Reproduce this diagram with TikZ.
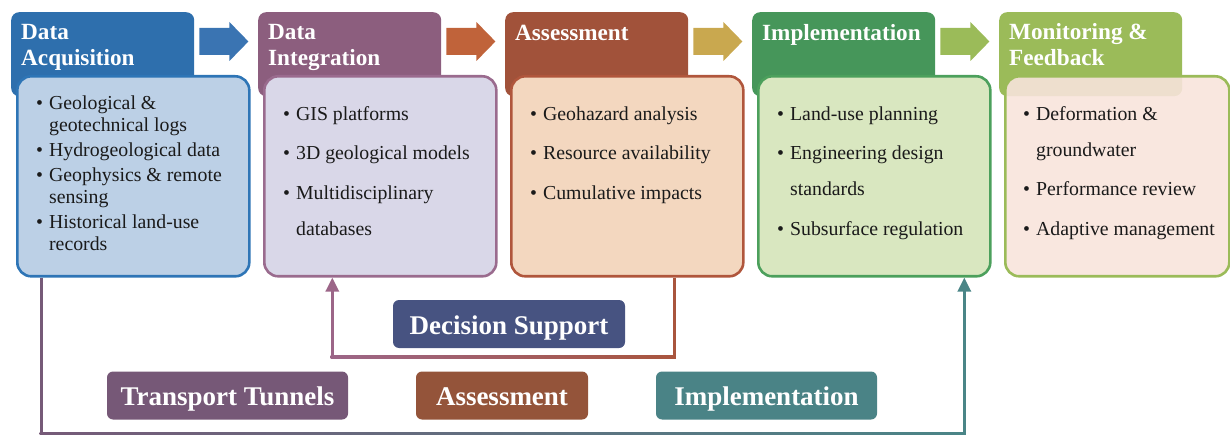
\documentclass[tikz,border=0pt]{standalone}
\usepackage{fontspec}
\setmainfont{Liberation Serif}
\usetikzlibrary{arrows.meta,calc}

% stage colours
\definecolor{tabA}{HTML}{2E6FAD}
\definecolor{tabB}{HTML}{8C5E7E}
\definecolor{tabC}{HTML}{A1523A}
\definecolor{tabD}{HTML}{46965A}
\definecolor{tabE}{HTML}{9BBB59}
\definecolor{arrA}{HTML}{3A74B2}
\definecolor{arrB}{HTML}{C0633A}
\definecolor{arrC}{HTML}{C9A84F}
\definecolor{arrD}{HTML}{9BBB59}
\definecolor{panA}{HTML}{BCD0E6}
\definecolor{lnA}{HTML}{2E75B6}
\definecolor{panB}{HTML}{D9D7E8}
\definecolor{lnB}{HTML}{9A6B8E}
\definecolor{panC}{HTML}{F3D7BF}
\definecolor{lnC}{HTML}{B0563C}
\definecolor{panD}{HTML}{D9E7C0}
\definecolor{lnD}{HTML}{4CA05C}
\definecolor{panE}{HTML}{F8E4DB}
\definecolor{lnE}{HTML}{9BBB59}
% bottom labels and loops
\definecolor{dsCol}{HTML}{475381}
\definecolor{ttCol}{HTML}{765877}
\definecolor{asCol}{HTML}{94543A}
\definecolor{imCol}{HTML}{4A8386}
\definecolor{lnDR}{HTML}{A9553D}
\definecolor{lnDL}{HTML}{9C6688}
\definecolor{lnGL}{HTML}{765A78}
\definecolor{lnGM}{HTML}{9A5A40}
\definecolor{lnGR}{HTML}{4A8587}
\definecolor{bodyInk}{HTML}{1A1A1A}

\begin{document}
\begin{tikzpicture}[x=1pt,y=-1pt,
  tabbox/.style={fill=#1, rounded corners=8pt, minimum width=183pt,
    minimum height=84pt, inner sep=0pt, anchor=north west},
  panel/.style 2 args={fill=#1, draw=#2, line width=2.6pt, rounded corners=14pt,
    minimum width=232pt, minimum height=200pt, inner sep=0pt, anchor=north west},
  headtxt/.style={text=white, font=\bfseries\fontsize{23.2}{26}\selectfont,
    inner sep=0pt, anchor=base west},
  bodytxt/.style={text=bodyInk, inner sep=0pt, anchor=base west},
  widebody/.style={bodytxt, font=\fontsize{19.8}{36}\selectfont},
  tagbox/.style={fill=#1, rounded corners=6pt, text=white,
    font=\bfseries\fontsize{27}{30}\selectfont, inner sep=0pt,
    text height=22pt, text depth=2pt, minimum height=48pt},
  link/.style={line width=3.2pt},
  linktip/.style={-{Triangle[length=14pt,width=13pt]}},
]
\useasboundingbox (0,0) rectangle (1230,435);

% header tabs
\node[tabbox=tabA] (t1) at (11,12) {};
\node[tabbox=tabB] (t2) at (258,12) {};
\node[tabbox=tabC] (t3) at (505,12) {};
\node[tabbox=tabD] (t4) at (752,12) {};
\node[tabbox=tabE] (t5) at (999,12) {};

% content panels
\node[panel={panA}{lnA}] (p1) at (16,75) {};
\node[panel={panB}{lnB}] (p2) at (263,75) {};
\node[panel={panC}{lnC}] (p3) at (510,75) {};
\node[panel={panD}{lnD}] (p4) at (757,75) {};
\node[panel={panE}{lnE}, minimum width=224pt, fill opacity=0.9] (p5) at (1004,75) {};

% block arrows between stages
\foreach \s/\c in {t1/arrA, t2/arrB, t3/arrC, t4/arrD}
  \fill[\c] ($(\s.north east)+(5,16)$) -- ++(30,0) -- ++(0,-6) -- ++(19,19.5)
     -- ++(-19,19.5) -- ++(0,-6) -- ++(-30,0) -- cycle;

% stage titles
\node[headtxt] (h1) at ($(t1.north west)+(10,28)$)
  {\begin{tabular}[t]{@{}l@{}}Data\\Acquisition\end{tabular}};
\node[headtxt] (h2) at ($(t2.north west)+(10,28)$)
  {\begin{tabular}[t]{@{}l@{}}Data\\Integration\end{tabular}};
\node[headtxt] (h3) at ($(t3.north west)+(10,29)$) {Assessment};
\node[headtxt] (h4) at ($(t4.north west)+(10,29)$) {Implementation};
\node[headtxt] (h5) at ($(t5.north west)+(10,28)$)
  {\begin{tabular}[t]{@{}l@{}}Monitoring \&\\Feedback\end{tabular}};

% panel contents
\node[bodytxt, font=\fontsize{19.8}{22}\selectfont] (l1) at ($(p1.north west)+(20,34.3)$)
  {\begin{tabular}[t]{@{}l@{\hspace{6pt}}l@{}}
   • & Geological \& \\
     & geotechnical logs \\[3pt]
   • & Hydrogeological data \\[3pt]
   • & Geophysics \& remote \\
     & sensing \\[3pt]
   • & Historical land-use \\
     & records
   \end{tabular}};
\node[widebody] (l2) at ($(p2.north west)+(20,45.3)$)
  {\begin{tabular}[t]{@{}l@{\hspace{6pt}}l@{}}
   • & GIS platforms \\[3.5pt]
   • & 3D geological models \\[3.5pt]
   • & Multidisciplinary \\
     & databases
   \end{tabular}};
\node[widebody] (l3) at ($(p3.north west)+(20,45.3)$)
  {\begin{tabular}[t]{@{}l@{\hspace{6pt}}l@{}}
   • & Geohazard analysis \\[3.5pt]
   • & Resource availability \\[3.5pt]
   • & Cumulative impacts
   \end{tabular}};
\node[widebody] (l4) at ($(p4.north west)+(20,45.3)$)
  {\begin{tabular}[t]{@{}l@{\hspace{6pt}}l@{}}
   • & Land-use planning \\[3.5pt]
   • & Engineering design \\
     & standards \\[3.5pt]
   • & Subsurface regulation
   \end{tabular}};
\node[widebody] (l5) at ($(p5.north west)+(19,45.3)$)
  {\begin{tabular}[t]{@{}l@{\hspace{6pt}}l@{}}
   • & Deformation \& \\
     & groundwater \\[3.5pt]
   • & Performance review \\[3.5pt]
   • & Adaptive management
   \end{tabular}};

% bottom labels
\node[tagbox=dsCol, minimum width=232pt] (ds) at (509,324) {Decision Support};
\node[tagbox=ttCol, minimum width=241pt] (tt) at (227.5,395.5) {Transport Tunnels};
\node[tagbox=asCol, minimum width=172pt] (as) at (502,395.5) {Assessment};
\node[tagbox=imCol, minimum width=221pt] (im) at (766.5,395.5) {Implementation};

% decision-support loop: assessment back to integration
\coordinate (dTop) at ($(p3.south)+(47,0)$);
\coordinate (dBot) at ($(dTop)+(0,79)$);
\coordinate (dEnd) at ($(p2.south)+(-48,0)$);
\coordinate (dTurn) at (dEnd |- dBot);
\draw[link, lnDR] (dTop) -- (dBot);
\shade[left color=lnDL, right color=lnDR]
  ($(dTurn)+(-1.6,-1.6)$) rectangle ($(dBot)+(1.6,1.6)$);
\draw[link, lnDL, linktip] (dTurn) -- (dEnd);

% outer loop: acquisition through to implementation
\coordinate (gTop) at ($(p1.south)+(-92,0)$);
\coordinate (gBot) at ($(gTop)+(0,156.5)$);
\coordinate (gEnd) at ($(p4.south)+(90,0)$);
\coordinate (gTurn) at (gEnd |- gBot);
\draw[link, lnGL] (gTop) -- (gBot);
\shade[left color=lnGL, middle color=lnGM, right color=lnGR]
  ($(gBot)+(-1.6,-1.6)$) rectangle ($(gTurn)+(1.6,1.6)$);
\draw[link, lnGR, linktip] (gTurn) -- (gEnd);
\end{tikzpicture}
\end{document}
